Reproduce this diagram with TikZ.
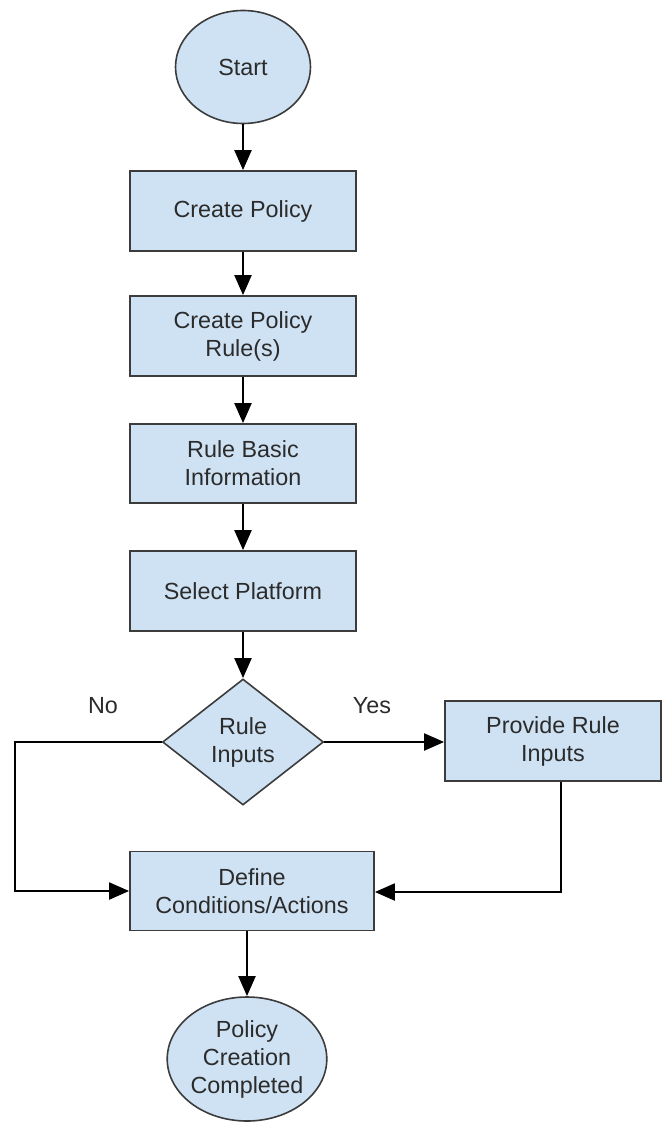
\documentclass[tikz,border=0pt]{standalone}
\usepackage{fontspec}
\setmainfont{Liberation Sans}
\usetikzlibrary{shapes.geometric,arrows.meta,calc}
\definecolor{boxfill}{HTML}{CFE2F3}
\definecolor{boxline}{HTML}{3C3C3C}
\definecolor{txt}{HTML}{2B2B2B}
\tikzset{
  base/.style={draw=boxline, line width=1.2pt, fill=boxfill, text=txt, align=center,
    inner sep=0pt, font=\fontsize{17.5}{21}\selectfont},
  procbox/.style={base, rectangle, minimum width=169.5pt, minimum height=60pt},
  termnode/.style={base, ellipse},
  decnode/.style={base, diamond, minimum width=120.75pt, minimum height=94.5pt},
  arr/.style={line width=2.2pt, black, -{Triangle[length=15pt,width=12.5pt]}},
  lbl/.style={text=txt, font=\fontsize{17.5}{21}\selectfont, inner sep=0pt}
}
\begin{document}
\begin{tikzpicture}[x=0.75pt, y=-0.75pt]
\useasboundingbox (0,0) rectangle (663,1123);
\node[termnode, minimum width=101.25pt, minimum height=84.75pt] (start) at (243,67) {Start};
\node[procbox] (cp) at (243,211) {Create Policy};
\node[procbox] (cr) at (243,336) {Create Policy\\Rule(s)};
\node[procbox, minimum height=59.25pt] (rb) at (243,463.5) {Rule Basic\\Information};
\node[procbox] (sp) at (243,591) {Select Platform};
\node[decnode] (ri) at (243,742) {Rule\\Inputs};
\node[procbox, minimum width=162pt] (pr) at (553,741) {Provide Rule\\Inputs};
\node[procbox, minimum width=183pt, minimum height=59.25pt] (dc) at (252,891) {Define\\Conditions/Actions};
\node[termnode, minimum width=108.75pt, minimum height=93pt] (fin) at (247,1059) {Policy\\Creation\\Completed};
\node[lbl] (no) at (103,706) {No};
\node[lbl] (yes) at (372,706) {Yes};
\coordinate (lturn) at (15,742);
\coordinate (rturn) at (561,892);
\draw[arr] (start) -- (cp);
\draw[arr] (cp) -- (cr);
\draw[arr] (cr) -- (rb);
\draw[arr] (rb) -- (sp);
\draw[arr] (sp) -- (ri);
\draw[arr] (ri.east) -- (pr.west |- ri.east);
\draw[arr] (ri.west) -- (lturn) |- (dc.west);
\draw[arr] (pr.south -| rturn) -- (rturn) -- (dc.east |- rturn);
\draw[arr] (dc.south -| fin.north) -- (fin.north);
\end{tikzpicture}
\end{document}
